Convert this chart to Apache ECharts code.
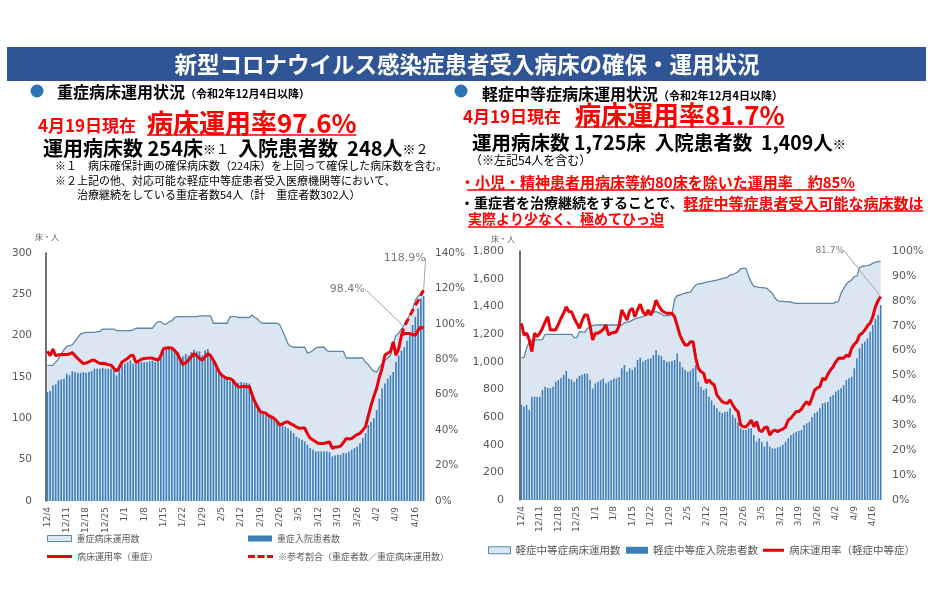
<!DOCTYPE html>
<html><head><meta charset="utf-8">
<script src="https://cdn.jsdelivr.net/npm/echarts@6/dist/echarts.min.js"></script>
<style>html,body{margin:0;padding:0;background:#fff}#c{width:934px;height:595px}</style>
</head><body><div id="c"></div>
<script>
// ---- categories: 2020/12/4 .. 2021/4/19 (137 days)
const dates = (function(){const out=[];const d=new Date(2020,11,4);for(let i=0;i<137;i++){out.push((d.getMonth()+1)+'/'+d.getDate());d.setDate(d.getDate()+1);}return out;})();

// ---- 重症 (severe) : beds in operation, inpatients, utilisation %, reference ratio %
const sevCap = [164,164,164,168,172,178,183,187,188,189,
193,198,202,203,204,204,204,204,205,205,
208,208,208,208,208,206,206,206,206,206,
206,207,209,209,209,209,209,209,209,214,
217,217,214,214,217,218,222,223,223,223,
223,223,223,223,223,224,224,224,224,224,
215,215,215,215,215,215,223,223,223,222,
222,222,222,222,225,222,220,216,215,215,
215,215,215,215,213,206,198,190,187,186,
186,186,186,186,179,180,182,185,186,186,
186,182,181,181,181,181,181,181,173,173,
173,173,173,173,173,168,165,160,157,156,
162,166,170,173,176,190,200,203,208,213,
219,225,231,243,248,249,254];
const sevPat = [132,133,140,141,146,147,148,154,152,157,
156,155,155,156,155,156,157,160,160,160,
161,160,160,160,159,152,164,164,166,168,
170,166,166,167,168,168,168,169,170,168,
170,176,180,186,186,185,183,180,170,175,
178,176,180,183,181,181,176,182,184,178,
170,165,158,154,150,147,145,144,144,143,
144,143,143,142,132,120,112,108,106,105,
104,102,99,96,94,91,90,88,85,82,
78,76,74,72,68,64,62,60,60,60,
60,60,59,54,55,56,56,58,58,60,
62,64,66,70,76,82,92,96,100,110,
124,136,142,148,152,156,168,176,182,186,
194,204,213,223,233,245,248];
const sevRate = [84.5,82,85.7,82,82.5,82.7,82.7,82.7,83,83.8,
82,80.4,79,77.6,78,78.5,79.5,79.5,78.5,77.6,
77.8,77.5,77,76.7,75,73.3,75.5,78.5,79.5,80.5,
82,82.3,78.2,79,80,80.4,80.6,80.8,80.6,80,
79.5,82,86,86.4,86.5,86.4,85,83.2,80,77,
78,79.5,81.5,83.2,82,80.5,79.5,81.5,83.2,82,
79.5,76.5,73,71,70,69.2,69.2,68.2,66,64.5,
64.4,64.8,64.4,64.6,60,56,53,50.3,50,49.5,
48.2,47.5,46.6,45,42.8,43.5,44.5,44.7,43.5,42.8,
41.8,41,41.2,41.2,38,35.5,34.4,33.5,32.5,32.5,
32.5,33,33.4,29.7,30.5,30.5,31,33,35.3,35,
35.3,36.5,37.5,38.2,40,41.9,48,54,59,63.5,
70,75,82.3,83.5,84.2,89.8,82.3,86,93.6,94.5,
94.5,94.5,94,93.6,96.4,98.2,97.6];
const sevRefIdx = [128,129,130,131,132,133,134,135,136];
const sevRefVal = [93.6,98.4,101.5,104.5,107.5,110.5,113,116.5,118.9];
const sevNotes = [129,136]; // annotated days on reference ratio

// ---- 軽症中等症 (mild/moderate)
const midCap = [1029,1029,1100,1140,1150,1157,1157,1157,1160,1198,
1198,1198,1198,1198,1198,1198,1198,1198,1198,1198,
1174,1174,1217,1215,1212,1240,1253,1260,1265,1265,
1265,1265,1265,1265,1265,1265,1265,1265,1265,1280,
1285,1290,1300,1309,1315,1320,1325,1333,1340,1350,
1358,1362,1355,1345,1333,1333,1333,1340,1450,1478,
1482,1490,1495,1500,1502,1530,1555,1562,1565,1570,
1575,1579,1582,1586,1590,1595,1600,1605,1610,1627,
1630,1639,1650,1672,1675,1675,1620,1575,1545,1540,
1537,1535,1533,1530,1510,1495,1460,1440,1438,1436,
1434,1434,1430,1425,1422,1422,1422,1422,1422,1422,
1422,1422,1422,1422,1422,1422,1422,1422,1422,1430,
1434,1495,1530,1560,1579,1590,1615,1618,1680,1688,
1692,1694,1700,1711,1720,1723,1725];
const midPat = [690,675,686,651,747,747,745,747,795,819,
810,808,819,855,867,880,904,933,878,870,
855,878,897,906,914,914,870,807,843,855,
866,878,843,855,867,878,880,890,952,976,
927,952,940,960,1012,1029,1000,1012,1020,1024,
1048,1085,1048,1040,1012,1000,1000,1005,1012,1060,
1000,960,940,927,935,952,976,855,819,795,
807,747,720,687,663,639,627,635,639,663,
615,591,560,518,506,506,518,518,470,422,
446,420,386,422,386,373,373,380,386,400,
422,446,470,482,494,500,506,542,554,566,
600,627,639,663,699,705,711,747,759,783,
795,807,831,867,880,891,952,1024,1097,1130,
1145,1169,1217,1265,1310,1338,1409];
const midRate = [71,66.3,67,64.3,59.6,67,65.6,67,69,71.5,
73.6,68.3,68.3,68.3,70.5,73,75,77.6,75.6,75.6,
73,71,69,72,74.3,74.3,70,64.3,67,67,
67.6,68.5,70.3,66.3,67,67.3,67.5,70,76.3,74.3,
72.3,76,77,73.6,76.5,78.6,75.6,74.3,76.3,74.3,
76.5,80.3,78,76.3,75.5,75,75,75,73.6,70,
66.3,64,62.2,62.2,63.6,63.6,57,52.9,51.5,50.9,
47,48.2,47,46.2,42.2,40.8,39.5,39,38.8,40.2,
38.2,36.5,35.5,30.1,29.4,29.4,30.5,32.1,29.4,31.5,
28.1,27.4,29,29.4,26.1,27.5,28.1,27.4,28.1,28.5,
29.4,32.1,32.8,34.2,35.5,35.5,36.5,38.2,39.5,38.2,
41,44.2,45,45.5,48.9,48.2,50.5,52.2,53.5,55.5,
56.9,57,56.9,58.2,57.6,60.9,62.5,63.6,66.3,67,
68.3,70,71,73.6,77.6,80,81.7];
const midNotes = [136];

// ---- axis ticks
const sevBedsAxis = {min:0,max:300,interval:50};
const sevPctAxis = {min:0,max:140,interval:20};
const midBedsAxis = {min:0,max:1800,interval:200};
const midPctAxis = {min:0,max:100,interval:10};

// build reference series (nulls before start)
const sevRef = dates.map(()=>null);
sevRefIdx.forEach((d,i)=>{sevRef[d]=sevRefVal[i];});

const JP='"Noto Sans CJK JP"', NUM='"DejaVu Sans"';
const RED='#E8000B', AREA='#DCE6F2', AREALINE='#5B86A8', BAR='#3E7FBA', GRAY='#595959';

const cv=document.createElement('canvas').getContext('2d');
function tw(t,f){cv.font=f;return cv.measureText(t).width;}

const xCommon = {type:'category',data:dates,boundaryGap:true,axisLine:{show:false},axisTick:{show:false},
  axisLabel:{rotate:90,interval:6,fontSize:9,color:GRAY,margin:6,fontFamily:NUM}};
const yLeftStyle = {splitLine:{show:false},axisTick:{show:false},axisLine:{show:true,lineStyle:{color:'#404040',width:1.5}}};
const yRightStyle = {splitLine:{show:false},axisTick:{show:false},axisLine:{show:false}};

function ul(x,y,w){return {type:'line',shape:{x1:x,y1:y,x2:x+w,y2:y},style:{stroke:'#FF0000',lineWidth:1.6},silent:true};}
function txt(x,y,text,font,fill,center){const s={text:text,font:font,fill:fill||'#000',textVerticalAlign:'middle',verticalAlign:'middle'};
  if(center){s.align='center';s.textAlign='center';} return {type:'text',x:x,y:y,style:s};}

const fBig='bold 26px '+JP, fDate='bold 17px '+JP, fRed='bold 15px '+JP, fKana='bold 14px '+JP;
const graphic = [
  {type:'rect',shape:{x:7,y:47,width:919,height:34},style:{fill:'#2F5597'}},
  txt(467,64,'新型コロナウイルス感染症患者受入病床の確保・運用状況','bold 22.5px '+JP,'#fff',true),
  // left header
  {type:'circle',shape:{cx:37,cy:91,r:6.5},style:{fill:'#2E75B6'}},
  {type:'text',x:57,y:92,style:{text:'{a|重症病床運用状況}{b|（令和2年12月4日以降）}',verticalAlign:'middle',textVerticalAlign:'middle',
     rich:{a:{fontSize:16,fontWeight:'bold',fontFamily:JP,fill:'#000'},b:{fontSize:11,fontWeight:'bold',fontFamily:JP,fill:'#000',padding:[4,0,0,0]}}}},
  txt(38,126,'4月19日現在',fDate,'#FF0000'),
  txt(147,123,'病床運用率97.6%',fBig,'#FF0000'),
  ul(147,135,tw('病床運用率97.6%',fBig)),
  {type:'text',x:43,y:148,style:{text:'{m|運用病床数 254床}{s|※１}{m|  入院患者数  248人}{s|※２}',verticalAlign:'middle',textVerticalAlign:'middle',
     rich:{m:{fontSize:20,fontWeight:'bold',fontFamily:JP,fill:'#000'},s:{fontSize:13,fontFamily:JP,fill:'#000',padding:[3,0,0,0]}}}},
  txt(55,166,'※１　病床確保計画の確保病床数（224床）を上回って確保した病床数を含む。','11px '+JP,'#000'),
  txt(55,181,'※２上記の他、対応可能な軽症中等症患者受入医療機関等において、','11px '+JP,'#000'),
  txt(77,195,'治療継続をしている重症者数54人（計　重症者数302人）','11px '+JP,'#000'),
  // right header
  {type:'circle',shape:{cx:461,cy:91,r:6.5},style:{fill:'#2E75B6'}},
  {type:'text',x:482,y:94,style:{text:'{a|軽症中等症病床運用状況}{b|（令和2年12月4日以降）}',verticalAlign:'middle',textVerticalAlign:'middle',
     rich:{a:{fontSize:16,fontWeight:'bold',fontFamily:JP,fill:'#000'},b:{fontSize:11,fontWeight:'bold',fontFamily:JP,fill:'#000',padding:[4,0,0,0]}}}},
  txt(463,117,'4月19日現在',fDate,'#FF0000'),
  txt(575,115,'病床運用率81.7%',fBig,'#FF0000'),
  ul(575,127,tw('病床運用率81.7%',fBig)),
  {type:'text',x:472,y:143,style:{text:'{m|運用病床数 1,725床  入院患者数  1,409人}{s|※}',verticalAlign:'middle',textVerticalAlign:'middle',
     rich:{m:{fontSize:19.5,fontWeight:'bold',fontFamily:JP,fill:'#000'},s:{fontSize:13,fontFamily:JP,fill:'#000',padding:[3,0,0,0]}}}},
  txt(470,160,'（※左記54人を含む）','12px '+JP,'#000'),
  txt(460,182,'・小児・精神患者用病床等約80床を除いた運用率　約85%',fRed,'#FF0000'),
  ul(467,190,tw('・小児・精神患者用病床等約80床を除いた運用率　約85%',fRed)-7),
  txt(460,203,'・重症者を治療継続をすることで、',fKana,'#000'),
  txt(460+tw('・重症者を治療継続をすることで、',fKana),203,'軽症中等症患者受入可能な病床数は',fRed,'#FF0000'),
  ul(460+tw('・重症者を治療継続をすることで、',fKana),211,tw('軽症中等症患者受入可能な病床数は',fRed)),
  txt(468,219,'実際より少なく、極めてひっ迫',fKana,'#FF0000'),
  ul(468,227,tw('実際より少なく、極めてひっ迫',fKana)),
  // axis unit names
  txt(47,237,'床・人','8px '+JP,GRAY,true),
  txt(503,239,'床・人','8px '+JP,GRAY,true)
];

const noteLabel = {show:true,position:'top',fontSize:11,color:GRAY,fontFamily:NUM,formatter:p=>p.value[1].toFixed(1)+'%'};
const noteLine = {show:true,lineStyle:{color:'#A6A6A6',width:1}};

const DASH_ICON='path://M0,0h7v3h-7z M9.5,0h7v3h-7z M19,0h6v3h-6z';
function leg(left,top,name,icon,w,h,color,extra,fs){
  const item={name:name,icon:icon,itemStyle:Object.assign({color:color},extra||{})};
  return {left:left,top:top,itemWidth:w,itemHeight:h,textStyle:{fontSize:fs||9,color:GRAY,fontFamily:JP},data:[item]};
}
const option = {
  animation:false,
  backgroundColor:'#fff',
  textStyle:{fontFamily:NUM},
  graphic:graphic,
  grid:[{left:46,top:253,width:379,height:248},{left:520,top:251,width:362,height:249}],
  xAxis:[Object.assign({gridIndex:0},xCommon),Object.assign({gridIndex:1},xCommon)],
  yAxis:[
    Object.assign({gridIndex:0,type:'value'},sevBedsAxis,yLeftStyle,{axisLabel:{fontSize:10.5,color:GRAY,margin:14,fontFamily:NUM}}),
    Object.assign({gridIndex:0,type:'value',position:'right'},sevPctAxis,yRightStyle,{axisLabel:{fontSize:10.5,color:GRAY,margin:10,fontFamily:NUM,formatter:'{value}%'}}),
    Object.assign({gridIndex:1,type:'value'},midBedsAxis,yLeftStyle,{axisLabel:{fontSize:11,color:GRAY,margin:16,fontFamily:NUM,formatter:v=>v.toLocaleString('en-US')}}),
    Object.assign({gridIndex:1,type:'value',position:'right'},midPctAxis,yRightStyle,{axisLabel:{fontSize:11,color:GRAY,margin:10,fontFamily:NUM,formatter:'{value}%'}})
  ],
  legend:[
    leg(42,529,'重症病床運用数','rect',24,6,AREA,{borderColor:AREALINE,borderWidth:1}),
    leg(243,529,'重症入院患者数','rect',24,6,BAR),
    leg(42,547,'病床運用率（重症）','rect',25,3,RED),
    leg(243,547,'※参考割合（重症者数／重症病床運用数）',DASH_ICON,25,3,RED),
    leg(483,540,'軽症中等症病床運用数','rect',22,7,AREA,{borderColor:AREALINE,borderWidth:1},10.5),
    leg(621,540,'軽症中等症入院患者数','rect',22,7,BAR,null,10.5),
    leg(758,540,'病床運用率（軽症中等症）','rect',21,3,RED,null,10.5)
  ],
  series:[
    {name:'重症病床運用数',type:'line',xAxisIndex:0,yAxisIndex:0,data:sevCap,symbol:'none',z:1,
     lineStyle:{color:AREALINE,width:1.3},itemStyle:{color:AREA},areaStyle:{color:AREA,opacity:1}},
    {name:'重症入院患者数',type:'bar',xAxisIndex:0,yAxisIndex:0,data:sevPat,barWidth:'60%',z:2,itemStyle:{color:BAR}},
    {name:'病床運用率（重症）',type:'line',xAxisIndex:0,yAxisIndex:1,data:sevRate,symbol:'none',z:4,
     lineStyle:{color:RED,width:3},itemStyle:{color:RED}},
    {name:'※参考割合（重症者数／重症病床運用数）',type:'line',xAxisIndex:0,yAxisIndex:1,data:sevRef,symbol:'none',z:5,
     lineStyle:{color:RED,width:3,type:[7,4]},itemStyle:{color:RED}},
    {type:'scatter',xAxisIndex:0,yAxisIndex:1,z:6,symbolSize:1,itemStyle:{color:'rgba(0,0,0,0)'},
     data:sevNotes.map(d=>[d,sevRef[d]]),label:noteLabel,labelLine:noteLine,
     labelLayout:p=>p.dataIndex===0?{dx:-57,dy:-27}:{dx:-19,dy:-21}},

    {name:'軽症中等症病床運用数',type:'line',xAxisIndex:1,yAxisIndex:2,data:midCap,symbol:'none',z:1,
     lineStyle:{color:AREALINE,width:1.3},itemStyle:{color:AREA},areaStyle:{color:AREA,opacity:1}},
    {name:'軽症中等症入院患者数',type:'bar',xAxisIndex:1,yAxisIndex:2,data:midPat,barWidth:'60%',z:2,itemStyle:{color:BAR}},
    {name:'病床運用率（軽症中等症）',type:'line',xAxisIndex:1,yAxisIndex:3,data:midRate,symbol:'none',z:4,
     lineStyle:{color:RED,width:3},itemStyle:{color:RED}},
    {type:'scatter',xAxisIndex:1,yAxisIndex:3,z:6,symbolSize:1,itemStyle:{color:'rgba(0,0,0,0)'},
     data:midNotes.map(d=>[d,midRate[d]]),label:Object.assign({},noteLabel,{fontSize:9}),labelLine:noteLine,
     labelLayout:()=>({dx:-51,dy:-36})}
  ]
};
const chart = echarts.init(document.getElementById('c'),null,{renderer:'canvas'});
chart.setOption(option);
</script></body></html>
